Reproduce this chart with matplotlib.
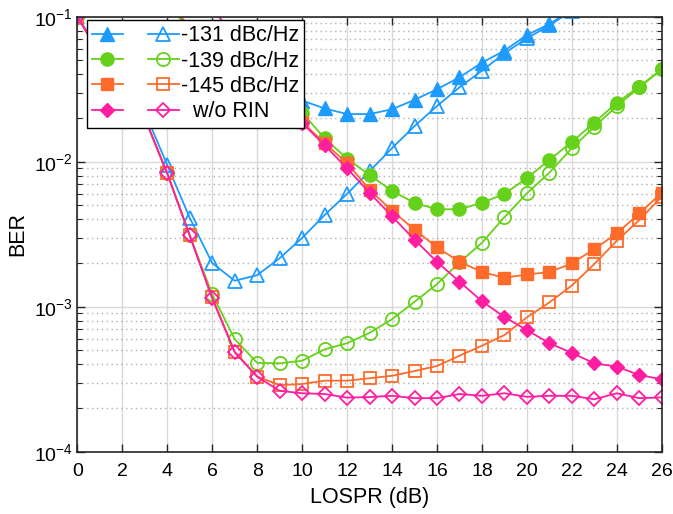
import matplotlib
matplotlib.use('Agg')
import matplotlib.pyplot as plt
import numpy as np
from matplotlib.ticker import LogLocator, NullFormatter, MultipleLocator

plt.rcParams['font.family'] = ['Liberation Sans', 'DejaVu Sans']
plt.rcParams['mathtext.default'] = 'regular'
plt.rcParams['axes.unicode_minus'] = False

# LOSPR (dB)
lospr = np.arange(0, 27)

# -131 dBc/Hz
ber_131_f = [0.45, 0.35, 0.26, 0.18, 0.12, 0.085, 0.063, 0.048, 0.038, 0.031,
             0.0264, 0.0233, 0.0213, 0.0213, 0.0230, 0.0267, 0.0316, 0.0382,
             0.0482, 0.0583, 0.0748, 0.089, 0.112, 0.14, 0.175, 0.21, 0.25]
ber_131_o = [0.1, 0.058, 0.04, 0.022, 0.0095, 0.0041, 0.0020, 0.00151,
             0.00165, 0.00216, 0.00298, 0.00429, 0.0060, 0.0086, 0.0124,
             0.0176, 0.0242, 0.0326, 0.0424, 0.0559, 0.071, 0.087, 0.11,
             0.14, 0.17, 0.21, 0.25]
# -139 dBc/Hz
ber_139_f = [0.5, 0.38, 0.27, 0.19, 0.125, 0.08, 0.058, 0.044, 0.034, 0.027,
             0.0218, 0.0145, 0.0105, 0.0081, 0.0063, 0.0052, 0.0047, 0.0047,
             0.0052, 0.0060, 0.0077, 0.0103, 0.0137, 0.0186, 0.0255, 0.0329,
             0.0434]
ber_139_o = [0.1, 0.055, 0.037, 0.02, 0.0083, 0.0031, 0.00122, 0.000598,
             0.00041, 0.000407, 0.000424, 0.000508, 0.00056, 0.00066,
             0.00082, 0.00108, 0.00143, 0.00202, 0.00276, 0.00414, 0.00605,
             0.0084, 0.0124, 0.0174, 0.0242, 0.0325, 0.0434]
# -145 dBc/Hz
ber_145_f = [0.55, 0.4, 0.29, 0.2, 0.13, 0.085, 0.06, 0.043, 0.032, 0.025,
             0.0188, 0.0134, 0.0098, 0.0064, 0.0046, 0.0034, 0.00257,
             0.00204, 0.00174, 0.00158, 0.00167, 0.00173, 0.00199, 0.0025,
             0.0032, 0.0044, 0.0061]
ber_145_o = [0.1, 0.055, 0.037, 0.02, 0.0083, 0.0031, 0.00116, 0.00049,
             0.00033, 0.000288, 0.000293, 0.000309, 0.000309, 0.000321,
             0.000334, 0.00036, 0.00039, 0.000459, 0.000538, 0.000638,
             0.000845, 0.00107, 0.0014, 0.00197, 0.00285, 0.00396, 0.00574]
# w/o RIN
ber_norin_f = [0.6, 0.45, 0.33, 0.25, 0.19, 0.15, 0.115, 0.072, 0.048, 0.03,
               0.0185, 0.013, 0.009, 0.0061, 0.0042, 0.0029, 0.00204,
               0.00149, 0.00109, 0.00085, 0.00069, 0.00056, 0.00048,
               0.000407, 0.000386, 0.000338, 0.000316]
ber_norin_o = [0.1, 0.055, 0.037, 0.02, 0.0083, 0.0031, 0.00114, 0.000485,
               0.000329, 0.000263, 0.000253, 0.00025, 0.000236, 0.000238,
               0.000243, 0.000234, 0.000234, 0.00025, 0.000243, 0.000253,
               0.000239, 0.000243, 0.000243, 0.00023, 0.000253, 0.000234,
               0.000237]

labels = ['-131 dBc/Hz', '-139 dBc/Hz', '-145 dBc/Hz', '  w/o RIN']
colors = ['#1E9BFF', '#66D11A', '#FF6B2B', '#FF1DA0']
markers = ['^', 'o', 's', 'D']
msizes = [10, 9.5, 8.5, 7.5]
filled = [ber_131_f, ber_139_f, ber_145_f, ber_norin_f]
hollow = [ber_131_o, ber_139_o, ber_145_o, ber_norin_o]

fig = plt.figure(figsize=(6.73, 5.14), dpi=100)
ax = fig.add_axes([0.1149, 0.1212, 0.8684, 0.8463])

h_f = []
h_o = []
for i in range(4):
    lf, = ax.plot(lospr, filled[i], color=colors[i], marker=markers[i],
                  markersize=msizes[i], linewidth=1.3,
                  markerfacecolor=colors[i], markeredgecolor=colors[i])
    lo, = ax.plot(lospr, hollow[i], color=colors[i], marker=markers[i],
                  markersize=msizes[i], linewidth=1.3, markeredgewidth=1.3,
                  markerfacecolor='none', markeredgecolor=colors[i])
    h_f.append(lf)
    h_o.append(lo)

ax.set_yscale('log')
ax.set_xlim(0, 26)
ax.set_ylim(1e-4, 1e-1)
ax.xaxis.set_major_locator(MultipleLocator(2))
ax.yaxis.set_major_locator(LogLocator(base=10, numticks=10))
ax.yaxis.set_minor_locator(LogLocator(base=10, subs=np.arange(2, 10), numticks=10))
ax.yaxis.set_minor_formatter(NullFormatter())

# grid like matlab
ax.grid(True, which='major', color='#d9d9d9', linewidth=1.0, linestyle='-')
ax.grid(True, which='minor', axis='y', color='#b0b0b0', linewidth=1.0,
        linestyle=(0, (1, 2.5)))
ax.set_axisbelow(True)

ax.tick_params(which='both', direction='in', top=True, right=True,
               labelsize=14, color='#262626')
ax.tick_params(which='major', length=6, width=1.0)
ax.tick_params(which='minor', length=3.5, width=0.8)
ax.tick_params(axis='x', pad=8)
for sp in ax.spines.values():
    sp.set_color('#262626')
    sp.set_linewidth(1.2)

ax.set_xlabel('LOSPR (dB)', fontsize=15.5, labelpad=5)
ax.set_ylabel('BER', fontsize=15.5, labelpad=4)

leg = ax.legend(h_f + h_o, ['', '', '', ''] + labels, ncol=2,
                loc='upper left', bbox_to_anchor=(0.0166, 0.9924),
                borderaxespad=0, fontsize=15.5, handlelength=1.4,
                handletextpad=0.1, columnspacing=1.1, labelspacing=0.2,
                borderpad=0.25, fancybox=False, framealpha=1,
                edgecolor='black')
leg.get_frame().set_linewidth(1.0)

fig.savefig('out.png', dpi=100)
